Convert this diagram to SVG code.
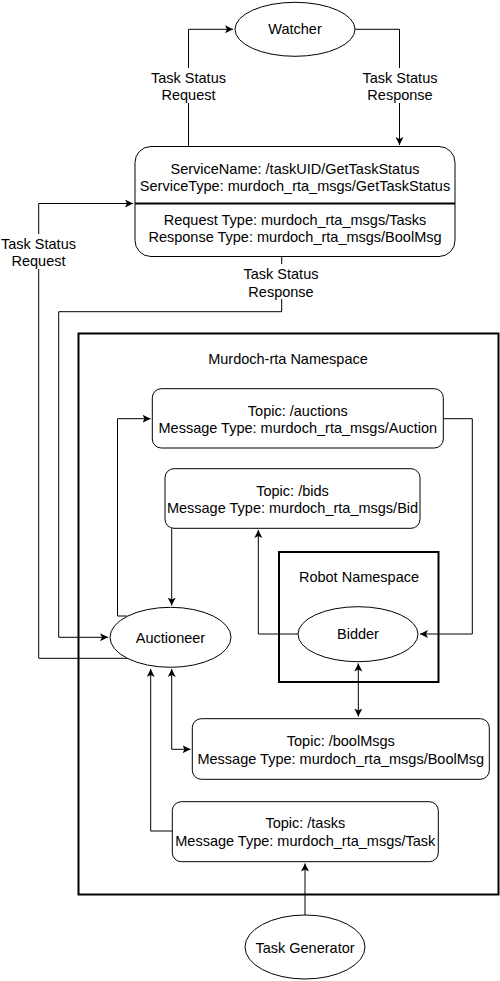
<svg xmlns="http://www.w3.org/2000/svg" width="500" height="981" viewBox="0 0 500 981">
<defs>
<marker id="arr" markerWidth="10" markerHeight="10" refX="8" refY="4" orient="auto" markerUnits="userSpaceOnUse">
<path d="M0,0 L8,4 L0,8 L2,4 z" fill="#000"/>
</marker>
<marker id="arrs" markerWidth="10" markerHeight="10" refX="8" refY="4" orient="auto-start-reverse" markerUnits="userSpaceOnUse">
<path d="M0,0 L8,4 L0,8 L2,4 z" fill="#000"/>
</marker>
<style>
text{font-family:"Liberation Sans",Arial,sans-serif;font-size:14.5px;fill:#000;text-anchor:middle}
.n{fill:#fff;stroke:#000;stroke-width:1}
.c{fill:none;stroke:#000;stroke-width:1}
.ns{fill:none;stroke:#000;stroke-width:2}
.lb{fill:#fff;stroke:none}
</style>
</defs>
<rect width="500" height="981" fill="#fff"/>
<g id="murdoch-ns">
<rect class="ns" x="78.5" y="333.5" width="420" height="561"/>
<text x="288" y="364.3">Murdoch-rta Namespace</text>
</g>
<g id="robot-ns">
<rect class="ns" x="279" y="552" width="159.5" height="130"/>
<text x="359" y="582.3">Robot Namespace</text>
</g>
<g id="connectors">
<path class="c" d="M188.5,146.5 V29.3 H233" marker-end="url(#arr)"/>
<path class="c" d="M355,29.3 H399.5 V145" marker-end="url(#arr)"/>
<path class="c" d="M129,658.3 H38.7 V203.5 H133" marker-end="url(#arr)"/>
<path class="c" d="M281.7,256.5 V311.7 H58.7 V637.3 H108" marker-end="url(#arr)"/>
<path class="c" d="M127,616 H117.5 V418.7 H150.5" marker-end="url(#arr)"/>
<path class="c" d="M443.3,418.7 H472.3 V634 H420" marker-end="url(#arr)"/>
<path class="c" d="M171.7,528.3 V605.5" marker-end="url(#arr)"/>
<path class="c" d="M298,634 H258.3 V530" marker-end="url(#arr)"/>
<path class="c" d="M358.3,663.5 V716.5" marker-start="url(#arrs)" marker-end="url(#arrs)"/>
<path class="c" d="M171.7,669 V749.3 H190.5" marker-start="url(#arrs)" marker-end="url(#arr)"/>
<path class="c" d="M172.3,831 H150.7 V669" marker-end="url(#arr)"/>
<path class="c" d="M305,915 V863.5" marker-end="url(#arr)"/>
<rect class="lb" x="148" y="68" width="82" height="35"/>
<text x="188.5" y="83.3">Task Status</text>
<text x="188.5" y="100.3">Request</text>
<rect class="lb" x="358" y="68" width="84" height="35"/>
<text x="400" y="83.3">Task Status</text>
<text x="400" y="100.3">Response</text>
<rect class="lb" x="0" y="234" width="78" height="35"/>
<text x="38.5" y="249">Task Status</text>
<text x="38.5" y="266">Request</text>
<rect class="lb" x="240" y="264" width="84" height="35"/>
<text x="281" y="279.3">Task Status</text>
<text x="281" y="296.5">Response</text>
</g>
<g id="watcher">
<ellipse class="n" cx="295" cy="29.3" rx="60" ry="27"/>
<text x="295" y="34.3">Watcher</text>
</g>
<g id="service">
<rect class="n" x="135" y="146.5" width="320" height="110" rx="16"/>
<line x1="135" y1="203.5" x2="455" y2="203.5" stroke="#000" stroke-width="2"/>
<text x="295" y="173.5">ServiceName: /taskUID/GetTaskStatus</text>
<text x="295" y="190.5">ServiceType: murdoch_rta_msgs/GetTaskStatus</text>
<text x="295" y="224.5">Request Type: murdoch_rta_msgs/Tasks</text>
<text x="295" y="241.5">Response Type: murdoch_rta_msgs/BoolMsg</text>
</g>
<g id="auctions">
<rect class="n" x="152.3" y="388.7" width="291" height="59.3" rx="9"/>
<text x="297.8" y="415.7">Topic: /auctions</text>
<text x="297.8" y="432.7">Message Type: murdoch_rta_msgs/Auction</text>
</g>
<g id="bids">
<rect class="n" x="165" y="468.7" width="255" height="59.6" rx="9"/>
<text x="292.5" y="495.7">Topic: /bids</text>
<text x="292.5" y="512.7">Message Type: murdoch_rta_msgs/Bid</text>
</g>
<g id="auctioneer">
<ellipse class="n" cx="170.5" cy="637.3" rx="60.5" ry="30"/>
<text x="170.5" y="643.3">Auctioneer</text>
</g>
<g id="bidder">
<ellipse class="n" cx="358" cy="634.2" rx="60" ry="27.5"/>
<text x="358" y="639.3">Bidder</text>
</g>
<g id="boolmsgs">
<rect class="n" x="192.3" y="718.7" width="297" height="60.6" rx="9"/>
<text x="340.8" y="746.3">Topic: /boolMsgs</text>
<text x="340.8" y="763.5">Message Type: murdoch_rta_msgs/BoolMsg</text>
</g>
<g id="tasks">
<rect class="n" x="172.3" y="801.7" width="266" height="60" rx="9"/>
<text x="305.3" y="828.3">Topic: /tasks</text>
<text x="305.3" y="845.5">Message Type: murdoch_rta_msgs/Task</text>
</g>
<g id="taskgen">
<ellipse class="n" cx="305" cy="947" rx="60" ry="32"/>
<text x="305" y="952.7">Task Generator</text>
</g>
</svg>
